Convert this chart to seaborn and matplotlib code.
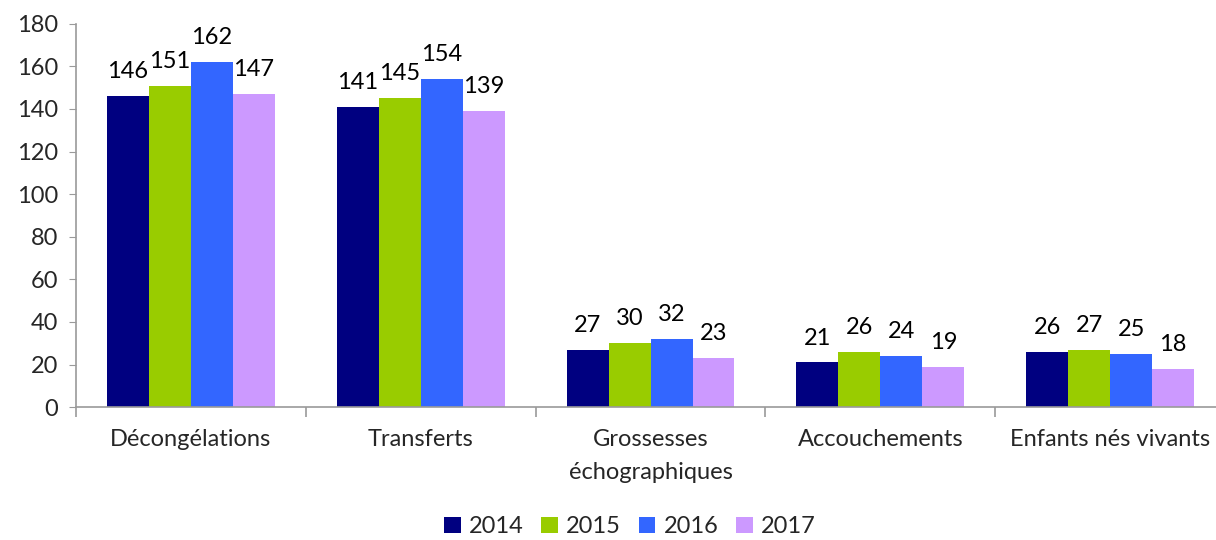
import matplotlib
matplotlib.use("Agg")
import matplotlib.pyplot as plt
import seaborn as sns
import pandas as pd

# Data
categories = ["Décongélations", "Transferts", "Grossesses\néchographiques",
              "Accouchements", "Enfants nés vivants"]
years = ["2014", "2015", "2016", "2017"]
v2014 = [146, 141, 27, 21, 26]
v2015 = [151, 145, 30, 26, 27]
v2016 = [162, 154, 32, 24, 25]
v2017 = [147, 139, 23, 19, 18]
colors = ["#000080", "#99CC00", "#3366FF", "#CC99FF"]

rows = []
for year, vals in zip(years, [v2014, v2015, v2016, v2017]):
    for cat, v in zip(categories, vals):
        rows.append({"cat": cat, "year": year, "value": v})
df = pd.DataFrame(rows)

sns.set_style("white")
plt.rcParams["font.family"] = ["Lato", "DejaVu Sans"]
fs = 17

fig = plt.figure(figsize=(12.16, 5.4), dpi=100)
ax = fig.add_axes([0.0625, 0.246, 0.945, 0.71])

sns.barplot(data=df, x="cat", y="value", hue="year", order=categories,
            hue_order=years, palette=colors, width=0.73, saturation=1,
            edgecolor="none", ax=ax)

for cont in ax.containers:
    ax.bar_label(cont, padding=10, fontsize=fs, color="#000000")

ax.set_xlim(-0.5, 4.5)
ax.set_ylim(0, 180)
ax.set_yticks(range(0, 181, 20))
ax.set_xlabel("")
ax.set_ylabel("")

for s in ["top", "right"]:
    ax.spines[s].set_visible(False)
for s in ["left", "bottom"]:
    ax.spines[s].set_color("#9a9a9a")
    ax.spines[s].set_linewidth(1.2)

ax.tick_params(axis="y", labelsize=fs, length=5, color="#9a9a9a",
               direction="out", left=True, pad=8)
ax.tick_params(axis="x", which="major", labelsize=fs, length=0, pad=16)
ax.set_xticks([i + 0.5 for i in range(-1, 5)], minor=True)
ax.tick_params(axis="x", which="minor", length=7, color="#9a9a9a",
               width=1.2, direction="out", bottom=True)
for lbl in ax.get_xticklabels():
    lbl.set_linespacing(1.7)

handles, labels = ax.get_legend_handles_labels()
ax.legend(handles, labels, loc="lower center", bbox_to_anchor=(0.518, -0.012),
          bbox_transform=fig.transFigure, ncol=4, frameon=False,
          fontsize=fs, handlelength=0.7, handleheight=0.7,
          handletextpad=0.35, columnspacing=0.75, borderaxespad=0.0)

fig.savefig("out.png", dpi=100)
